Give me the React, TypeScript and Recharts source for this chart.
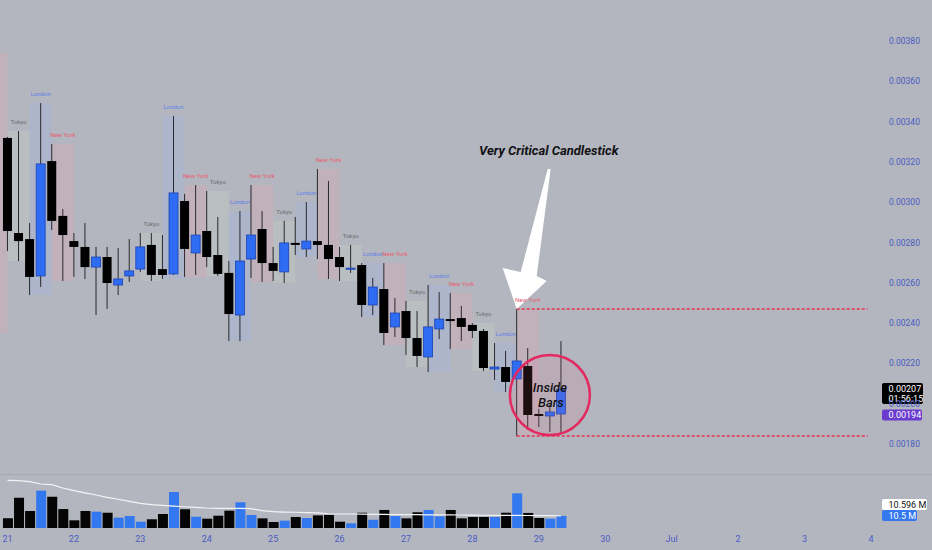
import {
  Bar,
  Cell,
  ComposedChart,
  Line,
  ReferenceArea,
  ReferenceDot,
  ReferenceLine,
  XAxis,
  YAxis,
} from 'recharts';

// 4h candles, index 0 = 21 Jun 00:00
const dayLabels = ['21', '22', '23', '24', '25', '26', '27', '28', '29', '30', 'Jul', '2', '3', '4'];

const opens = [
  0.003319, 0.002847, 0.002817, 0.002634, 0.003204, 0.002932, 0.002807, 0.002778, 0.002678, 0.002728,
  0.002589, 0.002634, 0.002668, 0.002788, 0.002668, 0.002644, 0.003006, 0.002748, 0.002857, 0.002738,
  0.002649, 0.00244, 0.002718, 0.002867, 0.002698, 0.002654, 0.002798, 0.002768, 0.002807, 0.002788,
  0.002728, 0.002673, 0.002688, 0.00249, 0.002569, 0.002381, 0.00246, 0.002326, 0.002232, 0.002371,
  0.00242, 0.002425, 0.002391, 0.002361, 0.002172, 0.002182, 0.002123, 0.002187, 0.001949, 0.001939,
  0.001949,
];
const highs = [
  0.003324, 0.003353, 0.002897, 0.003492, 0.003289, 0.002966, 0.002847, 0.002897, 0.002778, 0.002778,
  0.002773, 0.002817, 0.002847, 0.002847, 0.002837, 0.003428, 0.003041, 0.003085, 0.003056, 0.002927,
  0.002708, 0.002956, 0.003085, 0.002956, 0.002778, 0.002907, 0.002927, 0.003001, 0.003165, 0.003105,
  0.002778, 0.002788, 0.002698, 0.002624, 0.002698, 0.002525, 0.00251, 0.00246, 0.002589, 0.002554,
  0.002549, 0.002485, 0.0024, 0.002371, 0.002301, 0.002262, 0.00247, 0.002276, 0.001974, 0.001994,
  0.002311,
];
const lows = [
  0.002758, 0.002708, 0.002539, 0.002579, 0.002862, 0.002609, 0.002629, 0.002619, 0.00244, 0.00247,
  0.002539, 0.002604, 0.002654, 0.002609, 0.002619, 0.002639, 0.002629, 0.002639, 0.002678, 0.002634,
  0.002311, 0.002311, 0.002624, 0.002604, 0.002609, 0.002599, 0.002738, 0.002728, 0.002718, 0.002619,
  0.002609, 0.002649, 0.00243, 0.00244, 0.002291, 0.002331, 0.002242, 0.002182, 0.002157, 0.002321,
  0.002271, 0.002311, 0.002326, 0.002162, 0.002118, 0.002058, 0.00184, 0.001884, 0.001884, 0.00186,
  0.001855,
];
const closes = [
  0.002857, 0.002807, 0.002629, 0.00319, 0.002907, 0.002837, 0.002778, 0.002678, 0.002728, 0.002599,
  0.002619, 0.002659, 0.002778, 0.002639, 0.002639, 0.003046, 0.002768, 0.002837, 0.002728, 0.002644,
  0.002445, 0.002708, 0.002837, 0.002698, 0.002659, 0.002798, 0.002788, 0.002807, 0.002788, 0.002718,
  0.002678, 0.002673, 0.00249, 0.002579, 0.002351, 0.00245, 0.002326, 0.002237, 0.002381, 0.00242,
  0.00241, 0.002381, 0.002361, 0.002177, 0.002182, 0.002108, 0.002212, 0.001944, 0.001939, 0.001959,
  0.00207,
];
// volume in millions
const volumes = [
  8.4, 26.4, 14.8, 32.5, 27.2, 16.5, 6.7, 14.8, 14.2, 13.3,
  9.0, 10.4, 5.5, 7.6, 12.2, 31.3, 16.3, 9.8, 8.1, 10.7,
  15.1, 22.4, 11.3, 8.4, 5.2, 6.4, 9.6, 8.7, 11.0, 11.3,
  5.5, 4.1, 13.3, 7.2, 15.7, 10.4, 8.4, 13.7, 15.7, 10.2,
  15.7, 8.4, 9.6, 9.6, 9.6, 13.3, 30.2, 13.1, 8.7, 8.1,
  10.5,
];
const volumeMa = [
  41.5, 41.2, 40.3, 38.3, 37.7, 34.8, 32.5, 30.5, 28.7, 26.7,
  25.0, 23.2, 21.5, 20.3, 19.7, 19.1, 18.5, 18.0, 17.4, 17.1,
  17.1, 17.1, 16.8, 15.1, 14.2, 13.9, 13.7, 13.3, 13.1, 12.4,
  12.2, 12.2, 12.0, 11.9, 11.8, 11.7, 11.6, 11.6, 11.5, 11.4,
  11.4, 11.3, 11.2, 11.1, 11.0, 11.0, 11.1, 10.9, 10.8, 10.7,
  10.596,
];

// trading sessions, two candles each
const sessionNames = [
  'Tokyo', 'London', 'New York',
  'Tokyo', 'London', 'New York',
  'Tokyo', 'London', 'New York',
  'Tokyo', 'London', 'New York',
  'Tokyo', 'London', 'New York',
  'Tokyo', 'London', 'New York',
  'Tokyo', 'London', 'New York',
];
const sessionStarts = [0, 2, 4, 12, 14, 16, 18, 20, 22, 24, 26, 28, 30, 32, 34, 36, 38, 40, 42, 44, 46];
// New York box left over from 20 Jun
const carryOverHigh = 0.00374;
const carryOverLow = 0.002351;

const priceTicks = [0.0018, 0.002, 0.0022, 0.0024, 0.0026, 0.0028, 0.003, 0.0032, 0.0034, 0.0036, 0.0038];
const dayTicks = dayLabels.map((_, k) => k * 6);

const criticalIndex = 46;
const insideCenterIndex = 49;
const insideCenterPrice = 0.002043;
const markPrice = 0.00194;
const countdown = '01:56:15';

const X_MIN = -0.6775;
const X_MAX = 78.82;
const PRICE_MIN = 0.0016511;
const PRICE_MAX = 0.0040035;

const BG = '#b3b6be';
const AXIS_TEXT = '#4a5cc4';
const UP = '#2e6cf4';
const DOWN = '#000000';
const FONT = 'Roboto, "Noto Sans", sans-serif';

const sessionStyle: Record<string, { fill: string; opacity: number; text: string }> = {
  Tokyo: { fill: '#c6d0c6', opacity: 0.32, text: '#676b6c' },
  London: { fill: '#9db0ec', opacity: 0.26, text: '#5f7fe8' },
  'New York': { fill: '#e9a2b1', opacity: 0.26, text: '#ea5b70' },
};

const candles = opens.map((open, i) => ({
  i,
  open,
  high: highs[i],
  low: lows[i],
  close: closes[i],
  volume: volumes[i],
  ma: volumeMa[i],
}));

const sessions = sessionStarts.map((start, k) => ({
  name: sessionNames[k],
  start,
  high: Math.max(highs[start], highs[start + 1]),
  low: Math.min(lows[start], lows[start + 1]),
}));

const critical = candles[criticalIndex];
const last = candles[candles.length - 1];

function Candle(props: any) {
  const { x, y, width, height, payload } = props;
  const { open, close, high, low } = payload;
  const up = close >= open;
  const top = Math.min(y, y + height);
  const h = Math.abs(height);
  const ratio = h / (high - low);
  const cx = x + width / 2;
  const bodyTop = top + (high - Math.max(open, close)) * ratio;
  const bodyH = Math.max(1.2, Math.abs(open - close) * ratio);
  return (
    <g>
      <line x1={cx} x2={cx} y1={top} y2={top + h} stroke="#2a2a2e" strokeWidth={1} />
      <rect
        x={x}
        y={bodyTop}
        width={width}
        height={bodyH}
        fill={up ? UP : DOWN}
        stroke={up ? '#1b44b0' : DOWN}
        strokeWidth={up ? 0.8 : 0}
      />
    </g>
  );
}

function badge(lines: string[], bg: string, fg: string, width: number, height: number, lift: number) {
  return ({ viewBox }: any) => {
    const bx = viewBox.x + viewBox.width + 2;
    const top = viewBox.y - lift;
    return (
      <g>
        <rect x={bx} y={top} width={width} height={height} rx={2} fill={bg} />
        {lines.map((t, k) => (
          <text
            key={k}
            x={bx + 6.5}
            y={top + 8.6 + k * 10.4}
            fill={fg}
            fontSize={9}
            fontFamily={FONT}
          >
            {t}
          </text>
        ))}
      </g>
    );
  };
}

function CriticalArrow({ cx, cy }: any) {
  const pts = [
    [31, -140],
    [34, -140],
    [20, -33],
    [30, -28],
    [0, 0],
    [-14, -41],
    [4, -37],
  ]
    .map(([dx, dy]) => `${cx + dx},${cy + dy}`)
    .join(' ');
  return (
    <g>
      <polygon points={pts} fill="#ffffff" />
      <text
        x={cx + 32}
        y={cy - 158}
        textAnchor="middle"
        dominantBaseline="central"
        fontFamily={FONT}
        fontStyle="italic"
        fontWeight={700}
        fontSize={13}
        fill="#111114"
      >
        Very Critical Candlestick
      </text>
    </g>
  );
}

function InsideCircle({ cx, cy }: any) {
  const textProps = {
    textAnchor: 'middle' as const,
    dominantBaseline: 'central' as const,
    fontFamily: FONT,
    fontStyle: 'italic',
    fontWeight: 500,
    fontSize: 13,
    fill: '#111114',
  };
  return (
    <g>
      <circle cx={cx} cy={cy} r={40} fill="#e86a8f" fillOpacity={0.12} stroke="#e3295f" strokeWidth={2.5} />
      <text x={cx} y={cy - 7.5} {...textProps}>
        Inside
      </text>
      <text x={cx + 1} y={cy + 7} {...textProps}>
        Bars
      </text>
    </g>
  );
}

export default function App() {
  return (
    <div
      style={{
        position: 'fixed',
        left: 0,
        top: 0,
        width: 932,
        height: 550,
        background: BG,
        overflow: 'hidden',
        fontFamily: FONT,
      }}
    >
      <ComposedChart width={932} height={474} data={candles} margin={{ top: 0, right: 0, bottom: 0, left: 0 }}>
        <XAxis type="number" dataKey="i" domain={[X_MIN, X_MAX]} allowDataOverflow hide />
        <YAxis
          orientation="right"
          width={52}
          domain={[PRICE_MIN, PRICE_MAX]}
          allowDataOverflow
          ticks={priceTicks}
          tickFormatter={(v: number) => v.toFixed(5)}
          axisLine={false}
          tickLine={false}
          tickSize={0}
          tickMargin={9}
          tick={{ fill: AXIS_TEXT, fontSize: 8.5, fontFamily: FONT }}
        />

        <ReferenceArea
          x1={-2}
          x2={0}
          y1={carryOverLow}
          y2={carryOverHigh}
          fill={sessionStyle['New York'].fill}
          fillOpacity={sessionStyle['New York'].opacity}
          ifOverflow="hidden"
        />
        {sessions.map((s) => (
          <ReferenceArea
            key={`${s.name}-${s.start}`}
            x1={s.start}
            x2={s.start + 2}
            y1={s.low}
            y2={s.high}
            fill={sessionStyle[s.name].fill}
            fillOpacity={sessionStyle[s.name].opacity}
            label={{
              value: s.name,
              position: 'top',
              offset: 7,
              fill: sessionStyle[s.name].text,
              fontSize: 6,
              fontFamily: FONT,
            }}
          />
        ))}

        <Bar dataKey={(d: any) => [d.low, d.high]} barSize={9} shape={Candle} isAnimationActive={false} />

        <ReferenceLine
          segment={[
            { x: criticalIndex, y: critical.high },
            { x: 77.7, y: critical.high },
          ]}
          stroke="#e8334f"
          strokeWidth={1.4}
          strokeDasharray="3 2"
        />
        <ReferenceLine
          segment={[
            { x: criticalIndex, y: critical.low },
            { x: 77.7, y: critical.low },
          ]}
          stroke="#e8334f"
          strokeWidth={1.4}
          strokeDasharray="3 2"
        />

        <ReferenceDot x={insideCenterIndex} y={insideCenterPrice} shape={InsideCircle} />
        <ReferenceDot x={criticalIndex} y={critical.high} shape={CriticalArrow} />

        <ReferenceLine
          y={last.close}
          strokeOpacity={0}
          label={badge([last.close.toFixed(5), countdown], '#000000', '#ffffff', 41, 21, 6.6)}
        />
        <ReferenceLine
          y={markPrice}
          strokeOpacity={0}
          label={badge([markPrice.toFixed(5)], '#6a3bcf', '#ffffff', 40, 11, 6.3)}
        />
      </ComposedChart>

      <div style={{ position: 'absolute', left: 0, top: 474, width: 932, height: 1, background: '#a6a9b1' }} />

      <div style={{ position: 'absolute', left: 0, top: 474 }}>
        <ComposedChart width={932} height={76} data={candles} margin={{ top: 0, right: 0, bottom: 0, left: 0 }}>
          <XAxis
            type="number"
            dataKey="i"
            domain={[X_MIN, X_MAX]}
            allowDataOverflow
            ticks={dayTicks}
            tickFormatter={(v: number) => dayLabels[Math.round(v / 6)]}
            height={22}
            axisLine={false}
            tickLine={false}
            tickSize={0}
            tickMargin={8}
            tick={{ fill: AXIS_TEXT, fontSize: 9, fontFamily: FONT }}
          />
          <YAxis
            orientation="right"
            width={52}
            domain={[0, 47]}
            allowDataOverflow
            ticks={[40]}
            tickFormatter={(v: number) => `${v} M`}
            axisLine={false}
            tickLine={false}
            tickSize={0}
            tickMargin={9}
            tick={{ fill: AXIS_TEXT, fontSize: 8.5, fontFamily: FONT }}
          />
          <Bar dataKey="volume" barSize={10} isAnimationActive={false}>
            {candles.map((c) => (
              <Cell key={c.i} fill={c.close >= c.open ? '#3478f0' : '#050505'} />
            ))}
          </Bar>
          <Line
            type="linear"
            dataKey="ma"
            stroke="#f4f4f6"
            strokeWidth={1.2}
            dot={false}
            activeDot={false}
            isAnimationActive={false}
          />
          <ReferenceLine
            y={last.ma}
            strokeOpacity={0}
            label={badge([`${last.ma} M`], '#ffffff', '#111114', 45, 11, 16.8)}
          />
          <ReferenceLine
            y={last.volume}
            strokeOpacity={0}
            label={badge([`${last.volume} M`], '#3478f0', '#ffffff', 35, 11, 5.9)}
          />
        </ComposedChart>
      </div>
    </div>
  );
}
